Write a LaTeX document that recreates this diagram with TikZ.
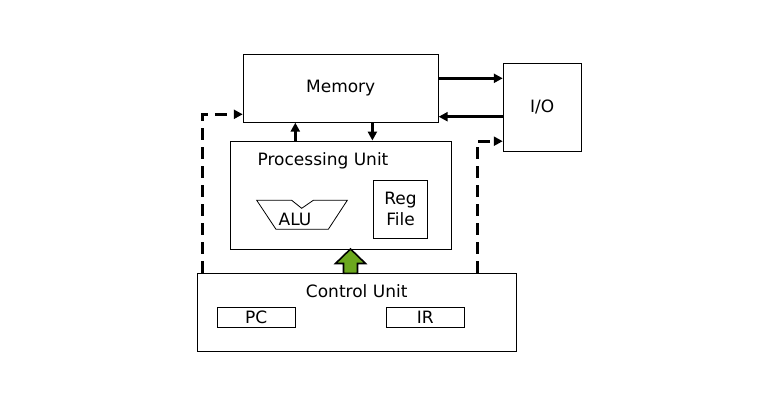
\documentclass[tikz,border=0pt]{standalone}
\usepackage{fontspec}
\setmainfont{DejaVu Sans}
\usetikzlibrary{arrows.meta,calc}
\definecolor{arrowgreen}{RGB}{108,168,30}
\tikzset{
  box/.style={draw,line width=0.9pt,inner sep=0pt,font=\fontsize{17}{21}\selectfont},
  lbl/.style={inner sep=0pt,font=\fontsize{17}{21}\selectfont},
  arr/.style={line width=3pt,-{Triangle[length=9pt,width=9pt]}},
  dasharr/.style={line width=3pt,dash pattern=on 12pt off 7pt,-{Triangle[length=9pt,width=9pt]}},
}
\begin{document}
\begin{tikzpicture}[x=1pt,y=-1pt]
\useasboundingbox (0,0) rectangle (781,416);
% boxes
\node[box,minimum width=195pt,minimum height=68pt] (mem) at (340.7,88.2) {Memory};
\node[box,minimum width=78pt,minimum height=88pt] (io) at (542.2,107.2) {I/O};
\node[box,minimum width=221.4pt,minimum height=108pt] (pu) at (341,195) {};
\node[lbl] (pulabel) at (323,160.7) {Processing Unit};
\node[box,minimum width=54.4pt,minimum height=58pt,align=center,font=\fontsize{17}{21}\selectfont] (reg) at (400.5,209.3) {Reg\\File};
\node[box,minimum width=319.4pt,minimum height=77.7pt] (cu) at (357,312.2) {};
\node[lbl] (culabel) at (356.7,290.7) {Control Unit};
\node[box,minimum width=78pt,minimum height=20pt] (pc) at (256.3,317.3) {PC};
\node[box,minimum width=78pt,minimum height=20pt] (ir) at (425.3,317.3) {IR};
% ALU
\draw[line width=0.8pt] (256.7,200.3) -- (291.7,200.3) -- (301.7,208.3) -- (313.3,200.3) -- (347.3,200.3) -- (328.3,229.3) -- (276,229.3) -- cycle;
\node[lbl] (alu) at (295,219.3) {ALU};
% memory <-> io
\draw[arr] ([yshift=9.9pt]mem.east) -- ([yshift=9.9pt]mem.east -| io.west);
\draw[arr] ([yshift=-9.5pt]io.west) -- ([yshift=-9.5pt]io.west -| mem.east);
% pu <-> memory
\draw[arr] ([xshift=-45.7pt]pu.north) -- ([xshift=-45.7pt]pu.north |- mem.south);
\draw[arr] ([xshift=31.7pt]mem.south) -- ([xshift=31.7pt]mem.south |- pu.north);
% dashed control
\draw[dasharr] ([xshift=5.7pt]cu.north west) |- ([yshift=-26.1pt]mem.west);
\draw[dasharr] ([xshift=280.3pt]cu.north west) |- ([yshift=-34pt]io.west);
% green arrow
\draw[line width=1.6pt,fill=arrowgreen,line join=miter]
  (350.5,249) -- (365.5,263.5) -- (357.5,263.5) -- (357.5,273.3)
  -- (343.5,273.3) -- (343.5,263.5) -- (335.5,263.5) -- cycle;
\end{tikzpicture}
\end{document}
